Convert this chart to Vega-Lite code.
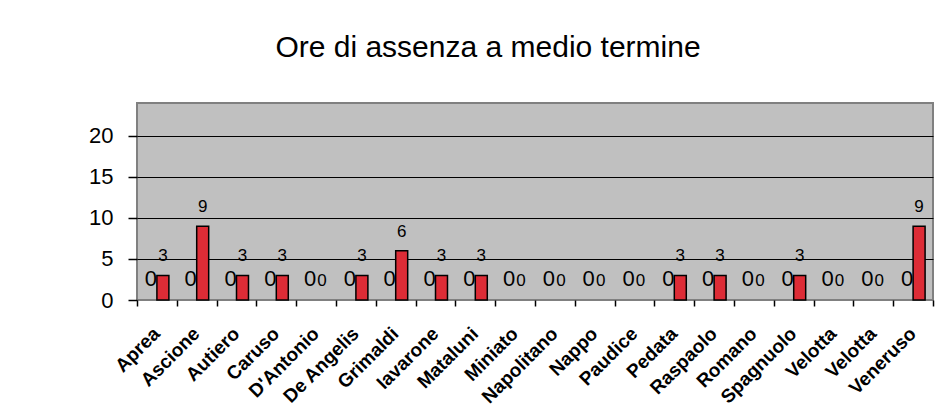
{
  "$schema": "https://vega.github.io/schema/vega-lite/v6.json",
  "width": 796,
  "height": 197,
  "autosize": {"type": "none"},
  "padding": {"left": 137, "top": 103, "right": 18, "bottom": 120},
  "background": "white",
  "title": {
    "text": "Ore di assenza a medio termine",
    "font": "Liberation Sans",
    "fontSize": 30,
    "fontWeight": "normal",
    "color": "black",
    "anchor": "middle",
    "dx": -47,
    "offset": 16,
    "baseline": "alphabetic"
  },
  "config": {
    "view": {"fill": "#c0c0c0", "stroke": "#808080", "strokeWidth": 2}
  },
  "data": {
    "values": [
      {"name": "Aprea", "serie": "A", "ore": 0}, {"name": "Aprea", "serie": "B", "ore": 3},
      {"name": "Ascione", "serie": "A", "ore": 0}, {"name": "Ascione", "serie": "B", "ore": 9},
      {"name": "Autiero", "serie": "A", "ore": 0}, {"name": "Autiero", "serie": "B", "ore": 3},
      {"name": "Caruso", "serie": "A", "ore": 0}, {"name": "Caruso", "serie": "B", "ore": 3},
      {"name": "D'Antonio", "serie": "A", "ore": 0}, {"name": "D'Antonio", "serie": "B", "ore": 0},
      {"name": "De Angelis", "serie": "A", "ore": 0}, {"name": "De Angelis", "serie": "B", "ore": 3},
      {"name": "Grimaldi", "serie": "A", "ore": 0}, {"name": "Grimaldi", "serie": "B", "ore": 6},
      {"name": "Iavarone", "serie": "A", "ore": 0}, {"name": "Iavarone", "serie": "B", "ore": 3},
      {"name": "Mataluni", "serie": "A", "ore": 0}, {"name": "Mataluni", "serie": "B", "ore": 3},
      {"name": "Miniato", "serie": "A", "ore": 0}, {"name": "Miniato", "serie": "B", "ore": 0},
      {"name": "Napolitano", "serie": "A", "ore": 0}, {"name": "Napolitano", "serie": "B", "ore": 0},
      {"name": "Nappo", "serie": "A", "ore": 0}, {"name": "Nappo", "serie": "B", "ore": 0},
      {"name": "Paudice", "serie": "A", "ore": 0}, {"name": "Paudice", "serie": "B", "ore": 0},
      {"name": "Pedata", "serie": "A", "ore": 0}, {"name": "Pedata", "serie": "B", "ore": 3},
      {"name": "Raspaolo", "serie": "A", "ore": 0}, {"name": "Raspaolo", "serie": "B", "ore": 3},
      {"name": "Romano", "serie": "A", "ore": 0}, {"name": "Romano", "serie": "B", "ore": 0},
      {"name": "Spagnuolo", "serie": "A", "ore": 0}, {"name": "Spagnuolo", "serie": "B", "ore": 3},
      {"name": "Velotta", "serie": "A", "ore": 0}, {"name": "Velotta", "serie": "B", "ore": 0},
      {"name": "Velotta 2", "serie": "A", "ore": 0}, {"name": "Velotta 2", "serie": "B", "ore": 0},
      {"name": "Veneruso", "serie": "A", "ore": 0}, {"name": "Veneruso", "serie": "B", "ore": 9}
    ]
  },
  "encoding": {
    "x": {
      "field": "name",
      "type": "nominal",
      "sort": ["Aprea", "Ascione", "Autiero", "Caruso", "D'Antonio", "De Angelis", "Grimaldi", "Iavarone", "Mataluni", "Miniato", "Napolitano", "Nappo", "Paudice", "Pedata", "Raspaolo", "Romano", "Spagnuolo", "Velotta", "Velotta 2", "Veneruso"],
      "scale": {"paddingInner": 0, "paddingOuter": 0},
      "axis": {
        "title": null,
        "labelExpr": "datum.label == 'Velotta 2' ? 'Velotta' : datum.label",
        "labelAngle": -45,
        "labelAlign": "right",
        "labelBaseline": "top",
        "labelFont": "Liberation Sans",
        "labelFontSize": 19,
        "labelFontWeight": "bold",
        "labelColor": "black",
        "labelPadding": 18,
        "labelOffset": -7,
        "labelLimit": 300,
        "tickBand": "extent",
        "tickColor": "black",
        "tickSize": 6,
        "tickWidth": 1.5,
        "domain": false,
        "grid": false
      }
    },
    "xOffset": {
      "field": "serie",
      "type": "nominal",
      "scale": {"domain": ["A", "B"], "paddingInner": 0, "paddingOuter": 0.66}
    },
    "y": {
      "field": "ore",
      "type": "quantitative",
      "scale": {"domain": [0, 24], "nice": false},
      "axis": {
        "title": null,
        "values": [0, 5, 10, 15, 20],
        "labelFont": "Liberation Sans",
        "labelFontSize": 22,
        "labelColor": "black",
        "labelPadding": 15,
        "tickSize": 9,
        "tickColor": "black",
        "tickWidth": 1.5,
        "domain": false,
        "grid": true,
        "gridColor": {"condition": {"test": "datum.value == 0", "value": "#808080"}, "value": "black"},
        "gridWidth": 1.2,
        "gridOpacity": 1
      }
    }
  },
  "layer": [
    {
      "transform": [{"filter": "datum.ore > 0"}],
      "mark": {"type": "bar", "fill": "#dd2c36", "stroke": "black", "strokeWidth": 1.5}
    },
    {
      "mark": {"type": "text", "baseline": "alphabetic", "dy": -14, "font": "Liberation Sans", "color": "black"},
      "encoding": {
        "text": {"field": "ore", "type": "quantitative"},
        "size": {"field": "serie", "type": "nominal", "scale": {"domain": ["A", "B"], "range": [22, 17]}, "legend": null}
      }
    }
  ]
}
